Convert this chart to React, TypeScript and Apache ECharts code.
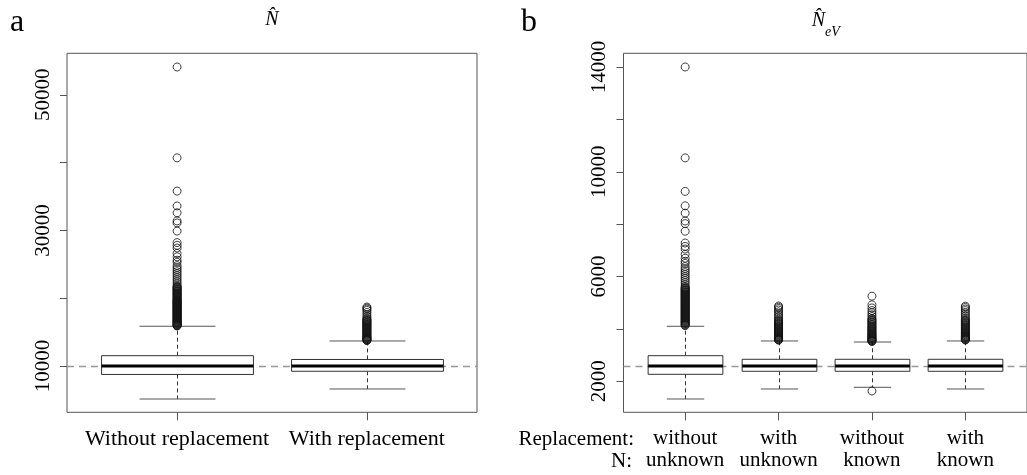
import React, { useEffect, useRef } from "react";
import * as echarts from "echarts";

// ---------- data ----------
// panel a: N-hat
const catsA = ["Without replacement", "With replacement"];
// [min whisker, Q1, median, Q3, max whisker]
const boxesA = [
  [5130, 8750, 10000, 11520, 15860],
  [6610, 9220, 10000, 10960, 13690],
];
const outliersA1 = [
  54100, 40700, 35800, 33600, 32600, 31400, 31100, 29900, 28200, 27800, 27400,
  26600, 26100, 25600, 25300, 24800, 24500, 24200, 23900, 23600, 23300, 23000,
  22700, 22400, 22100, 21800, 21600, 21400, 21200, 21000, 20800, 20600, 20400,
  20200, 20000, 19800, 19650, 19500, 19350, 19200, 19050, 18900, 18750, 18600,
  18450, 18300, 18150, 18000, 17850, 17700, 17550, 17400, 17250, 17100, 16950,
  16800, 16650, 16500, 16350, 16200, 16050, 15950,
  21700, 21500, 21300, 21100, 20900, 20700, 20500, 20300, 20100, 19900, 19725,
  19575, 19425, 19275, 19125, 18975, 18825, 18675, 18525, 18375, 18225, 18075,
  17925, 17775, 17625, 17475, 17325, 17175, 17025, 16875, 16725, 16575, 16425,
  16275, 16125, 16000, 15900,
];
const outliersA2 = [
  18700, 18550, 18400, 18200, 17900, 17600, 17300, 17100, 16900, 16700, 16500,
  16300, 16100, 15900, 15700, 15500, 15300, 15100, 14900, 14700, 14500, 14300,
  14150, 14000, 13850, 13750,
  16800, 16600, 16400, 16200, 16000, 15800, 15600, 15400, 15200, 15000, 14800,
  14600, 14400, 14225, 14075, 13925, 13800,
];
const refA = 10000;
const yTicksA = [10000, 20000, 30000, 40000, 50000];
const yLabelsA = [10000, 30000, 50000];

// panel b: N-hat eV
const catsB1 = ["without", "with", "without", "with"];
const catsB2 = ["unknown", "unknown", "known", "known"];
const boxesB = [
  [1324, 2267, 2585, 2978, 4100],
  [1706, 2382, 2585, 2840, 3539],
  [1771, 2382, 2585, 2840, 3500],
  [1706, 2382, 2585, 2840, 3539],
];
const outliersB1 = [
  14000, 10530, 9250, 8700, 8420, 8120, 8020, 7730, 7280, 7150, 7050, 6850,
  6700, 6580, 6500, 6380, 6300, 6220, 6150, 6070, 5990, 5920, 5840, 5760, 5680,
  5610, 5550, 5500, 5450, 5400, 5350, 5300, 5250, 5200, 5150, 5100, 5050, 5000,
  4950, 4900, 4850, 4800, 4750, 4700, 4650, 4600, 4550, 4500, 4450, 4400, 4350,
  4300, 4250, 4200, 4150,
  5575, 5525, 5475, 5425, 5375, 5325, 5275, 5225, 5175, 5125, 5075, 5025, 4975,
  4925, 4875, 4825, 4775, 4725, 4675, 4625, 4575, 4525, 4475, 4425, 4375, 4325,
  4275, 4225, 4175, 4125,
];
const outliersB2 = [
  4875, 4830, 4780, 4720, 4650, 4580, 4520, 4460, 4400, 4340, 4280, 4220, 4160,
  4100, 4040, 3980, 3920, 3870, 3820, 3770, 3720, 3680, 3640, 3600, 3570,
  4310, 4250, 4190, 4130, 4070, 4010, 3950, 3895, 3845, 3795, 3745, 3700, 3660,
  3620, 3585,
];
const outliersB3 = [
  5250, 4920, 4800, 4700, 4620, 4540, 4470, 4400, 4330, 4260, 4190, 4120, 4060,
  4000, 3940, 3880, 3820, 3770, 3720, 3670, 3630, 3590, 3550, 3520, 1630,
  4365, 4295, 4225, 4155, 4090, 4030, 3970, 3910, 3850, 3795, 3745, 3695, 3650,
  3610, 3570, 3535,
];
const outliersB4 = [
  4870, 4820, 4760, 4700, 4630, 4560, 4490, 4420, 4360, 4300, 4240, 4180, 4120,
  4060, 4000, 3940, 3880, 3830, 3780, 3730, 3690, 3650, 3610, 3575,
  4330, 4270, 4210, 4150, 4090, 4030, 3970, 3910, 3855, 3805, 3755, 3710, 3670,
  3630, 3590,
];
const refB = 2585;
const yTicksB = [2000, 4000, 6000, 8000, 10000, 12000, 14000];
const yLabelsB = [2000, 6000, 10000, 14000];

// ---------- styling ----------
const FONT = "'Liberation Serif', 'Times New Roman', serif";
const FRAME = "#555";

function renderBox(params: any, api: any) {
  const x = api.value(0);
  const lo = api.coord([x, api.value(1)]);
  const q1 = api.coord([x, api.value(2)]);
  const med = api.coord([x, api.value(3)]);
  const q3 = api.coord([x, api.value(4)]);
  const hi = api.coord([x, api.value(5)]);
  const w = api.size([0.8, 0])[0];
  const cx = Math.round(lo[0]) + 0.5;
  const dash = { stroke: "#333", lineWidth: 1, lineDash: [4, 3] };
  const cap = { stroke: "#555", lineWidth: 1 };
  return {
    type: "group",
    children: [
      { type: "line", shape: { x1: cx, y1: q3[1], x2: cx, y2: hi[1] }, style: dash },
      { type: "line", shape: { x1: cx, y1: q1[1], x2: cx, y2: lo[1] }, style: dash },
      { type: "line", shape: { x1: cx - w / 4, y1: hi[1], x2: cx + w / 4, y2: hi[1] }, style: cap },
      { type: "line", shape: { x1: cx - w / 4, y1: lo[1], x2: cx + w / 4, y2: lo[1] }, style: cap },
      {
        type: "rect",
        shape: { x: cx - w / 2, y: q3[1], width: w, height: q1[1] - q3[1] },
        style: { fill: "#fff", stroke: "#333", lineWidth: 1 },
      },
      {
        type: "line",
        shape: { x1: cx - w / 2, y1: med[1], x2: cx + w / 2, y2: med[1] },
        style: { stroke: "#000", lineWidth: 3 },
      },
    ],
  };
}

function boxData(boxes: number[][]) {
  return boxes.map((b, i) => [i + 1, ...b]);
}
function outData(vals: number[], pos: number) {
  return vals.map((v) => [pos, v]);
}

export default function App() {
  const ref = useRef<HTMLDivElement>(null);
  useEffect(() => {
    if (!ref.current) return;
    const chart = echarts.init(ref.current, null, { renderer: "svg" });
    const textBase = { fontFamily: FONT, color: "#000" };
    const xAxisCommon = (idx: number, min: number, max: number, vals: number[], fmt: (v: number) => string, fs: number) => ({
      gridIndex: idx,
      type: "value",
      min,
      max,
      axisLine: { show: false },
      splitLine: { show: false },
      axisTick: { show: true, length: 8, customValues: vals, lineStyle: { color: FRAME } },
      axisLabel: {
        customValues: vals,
        formatter: fmt,
        margin: 14,
        fontSize: fs,
        lineHeight: 22,
        ...textBase,
      },
    });
    const yAxisCommon = (idx: number, min: number, max: number, ticks: number[], labels: number[]) => ({
      gridIndex: idx,
      type: "value",
      min,
      max,
      axisLine: { show: false },
      splitLine: { show: false },
      axisTick: { show: true, length: 7, customValues: ticks, lineStyle: { color: FRAME } },
      axisLabel: {
        customValues: labels,
        rotate: 90,
        margin: 15,
        fontSize: 21,
        formatter: (v: number) => String(v),
        ...textBase,
      },
    });
    const scatter = (xi: number, vals: number[], pos: number) => ({
      type: "scatter",
      xAxisIndex: xi,
      yAxisIndex: xi,
      data: outData(vals, pos),
      symbol: "circle",
      symbolSize: 8,
      itemStyle: { color: "rgba(0,0,0,0)", borderColor: "#111", borderWidth: 1 },
      silent: true,
      z: 4,
    });
    const markRef = (v: number) => ({
      silent: true,
      z: 1,
      symbol: ["none", "none"],
      label: { show: false },
      lineStyle: { color: "#999", type: [7, 5], width: 1.3 },
      data: [{ yAxis: v }],
    });
    chart.setOption({
      animation: false,
      grid: [
        { left: 67, top: 53.3, width: 410, height: 359, show: true, borderColor: FRAME, borderWidth: 1, backgroundColor: "transparent" },
        { left: 623.5, top: 53.3, width: 410, height: 359, show: true, borderColor: FRAME, borderWidth: 1, backgroundColor: "transparent" },
      ],
      xAxis: [
        xAxisCommon(0, 0.42, 2.58, [1, 2], (v: number) => catsA[Math.round(v) - 1] ?? "", 22),
        xAxisCommon(1, 0.34, 4.66, [1, 2, 3, 4], (v: number) => {
          const i = Math.round(v) - 1;
          return catsB1[i] !== undefined ? catsB1[i] + "\n" + catsB2[i] : "";
        }, 21),
      ],
      yAxis: [
        yAxisCommon(0, 3170, 56120, yTicksA, yLabelsA),
        yAxisCommon(1, 816, 14523, yTicksB, yLabelsB),
      ],
      series: [
        {
          type: "custom",
          xAxisIndex: 0,
          yAxisIndex: 0,
          renderItem: renderBox,
          encode: { x: 0, y: [1, 2, 3, 4, 5] },
          data: boxData(boxesA),
          markLine: markRef(refA),
          z: 3,
        },
        scatter(0, outliersA1, 1),
        scatter(0, outliersA2, 2),
        {
          type: "custom",
          xAxisIndex: 1,
          yAxisIndex: 1,
          renderItem: renderBox,
          encode: { x: 0, y: [1, 2, 3, 4, 5] },
          data: boxData(boxesB),
          markLine: markRef(refB),
          z: 3,
        },
        scatter(1, outliersB1, 1),
        scatter(1, outliersB2, 2),
        scatter(1, outliersB3, 3),
        scatter(1, outliersB4, 4),
      ],
      graphic: [
        { type: "text", left: 10, top: 4, style: { text: "a", fontSize: 32, fontFamily: FONT, fill: "#000" } },
        { type: "text", left: 521, top: 4, style: { text: "b", fontSize: 32, fontFamily: FONT, fill: "#000" } },
        { type: "text", x: 272, y: 28, style: { text: "N\u0302", fontSize: 20, fontStyle: "italic", fontFamily: FONT, fill: "#000", align: "center", verticalAlign: "bottom" } },
        { type: "text", x: 825, y: 29, style: { text: "N\u0302", fontSize: 20, fontStyle: "italic", fontFamily: FONT, fill: "#000", align: "right", verticalAlign: "bottom" } },
        { type: "text", x: 825, y: 38, style: { text: "eV", fontSize: 14, fontStyle: "italic", fontFamily: FONT, fill: "#000", align: "left", verticalAlign: "bottom" } },
        { type: "text", x: 634, y: 427, style: { text: "Replacement:", fontSize: 21, fontFamily: FONT, fill: "#000", align: "right", verticalAlign: "top" } },
        { type: "text", x: 632, y: 449, style: { text: "N:", fontSize: 21, fontFamily: FONT, fill: "#000", align: "right", verticalAlign: "top" } },
      ],
    });
    return () => chart.dispose();
  }, []);
  return <div ref={ref} style={{ position: "fixed", left: 0, top: 0, width: 1027, height: 475 }} />;
}
